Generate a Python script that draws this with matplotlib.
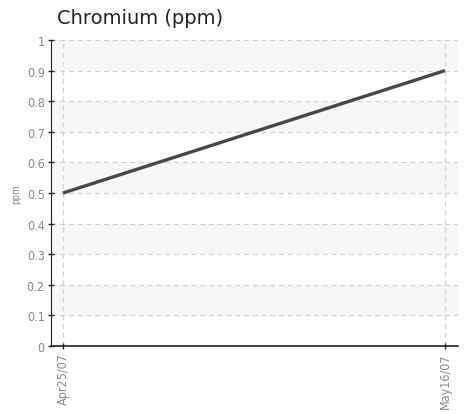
import matplotlib
matplotlib.use('Agg')
import matplotlib.pyplot as plt
import numpy as np
from datetime import datetime, timedelta

dates = [datetime(2007, 4, 25), datetime(2007, 5, 16)]
values = [0.5, 0.9]
date_labels = ['Apr25/07', 'May16/07']
yticks = [0, 0.1, 0.2, 0.3, 0.4, 0.5, 0.6, 0.7, 0.8, 0.9, 1]
ytick_labels = ['0', '0.1', '0.2', '0.3', '0.4', '0.5', '0.6', '0.7', '0.8', '0.9', '1']

fig = plt.figure(figsize=(4.66, 4.14), dpi=100)
ax = fig.add_axes([0.1094, 0.1618, 0.8736, 0.7392])

# alternating bands
for lo in np.arange(0.1, 1.0, 0.2):
    ax.axhspan(lo, lo + 0.1, color='#f7f7f7', zorder=0, lw=0)

ax.plot(dates, values, color='#474747', lw=2.4, zorder=3, solid_capstyle='butt')

ax.set_xlim(dates[0] - timedelta(days=0.66), dates[1] + timedelta(days=0.72))
ax.set_ylim(0, 1)
ax.set_xticks(dates)
ax.set_xticklabels(date_labels, rotation=90, fontstretch='condensed', fontsize=9, color='#888888')
ax.set_yticks(yticks)
ax.set_yticklabels(ytick_labels, fontstretch='condensed', fontsize=9, color='#888888')
ax.grid(True, color='#d0d0d0', linestyle=(0, (4, 3)), lw=0.9)
ax.set_axisbelow(True)

for s in ['top', 'right']:
    ax.spines[s].set_visible(False)
ax.spines['left'].set_color('#222222')
ax.spines['bottom'].set_color('#222222')
ax.spines['bottom'].set_linewidth(1.2)
ax.tick_params(axis='both', direction='inout', length=5, width=1, color='#222222', pad=2)

ax.set_ylabel('ppm', fontstretch='condensed', fontsize=7, color='#888888', labelpad=4)
fig.text(0.122, 0.942, 'Chromium (ppm)', fontsize=14, color='#222222')

fig.savefig('out.png', dpi=100)
